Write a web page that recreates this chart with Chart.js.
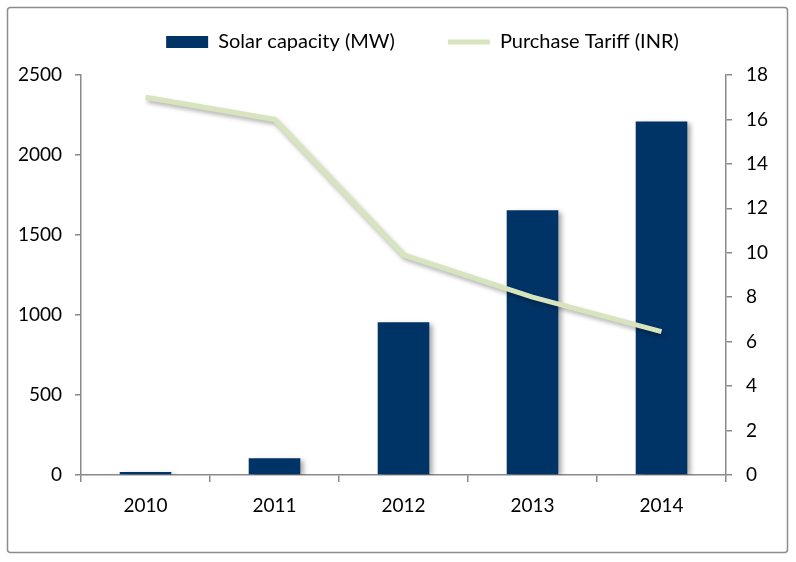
<!DOCTYPE html>
<html>
<head>
<meta charset="utf-8">
<script src="https://cdn.jsdelivr.net/npm/chart.js@4.4.1/dist/chart.umd.min.js"></script>
<style>
  html, body { margin: 0; padding: 0; background: #ffffff; }
  #wrap { width: 796px; height: 562px; }
</style>
</head>
<body>
<div id="wrap"><canvas id="c" width="796" height="562"></canvas></div>
<script>
const categories = ['2010', '2011', '2012', '2013', '2014'];
const solarCapacityMW = [18, 104, 955, 1655, 2210];
const purchaseTariffINR = [17.0, 16.0, 9.9, 8.0, 6.45];
const leftTicks = [0, 500, 1000, 1500, 2000, 2500];
const rightTicks = [0, 2, 4, 6, 8, 10, 12, 14, 16, 18];

const FONT = 'Lato, "Open Sans", sans-serif';
const AXIS_GRAY = '#8a8a8a';

const framePlugin = {
  id: 'frame',
  afterInit(chart) {
    const legend = chart.legend;
    if (legend && !legend.__wrapped) {
      const origFit = legend.fit.bind(legend);
      legend.fit = function () { origFit(); this.height = 96; };
      legend.__wrapped = true;
    }
  },
  beforeDraw(chart) {
    const ctx = chart.ctx;
    ctx.save();
    ctx.fillStyle = '#ffffff';
    ctx.fillRect(0, 0, chart.width, chart.height);
    ctx.strokeStyle = '#8c8c8c';
    ctx.lineWidth = 1.5;
    ctx.beginPath();
    if (ctx.roundRect) ctx.roundRect(7.5, 7.5, 780, 545, 3); else ctx.rect(7.5, 7.5, 780, 545);
    ctx.stroke();
    ctx.restore();
  },
  beforeDatasetDraw(chart, args) {
    const ctx = chart.ctx;
    ctx.save();
    if (args.meta.type === 'bar') {
      ctx.shadowColor = 'rgba(0,0,0,0.35)';
      ctx.shadowOffsetX = 4;
      ctx.shadowOffsetY = 2;
      ctx.shadowBlur = 5;
    } else {
      ctx.shadowColor = 'rgba(0,0,0,0.30)';
      ctx.shadowOffsetX = 2;
      ctx.shadowOffsetY = 3;
      ctx.shadowBlur = 4;
    }
  },
  afterDatasetDraw(chart) {
    chart.ctx.restore();
  }
};

new Chart(document.getElementById('c'), {
  data: {
    labels: categories,
    datasets: [
      {
        type: 'line',
        label: 'Purchase Tariff (INR)',
        data: purchaseTariffINR,
        yAxisID: 'y1',
        borderColor: '#d7e4bd',
        backgroundColor: '#d7e4bd',
        borderWidth: 5,
        pointRadius: 0,
        pointStyle: 'line',
        tension: 0,
        order: 0
      },
      {
        type: 'bar',
        label: 'Solar capacity (MW)',
        data: solarCapacityMW,
        yAxisID: 'y',
        backgroundColor: '#003366',
        borderWidth: 0,
        pointStyle: 'rect',
        barPercentage: 0.4,
        categoryPercentage: 1.0,
        order: 1
      }
    ]
  },
  options: {
    responsive: false,
    animation: false,
    devicePixelRatio: 1,
    layout: { padding: { top: -21, left: 0, right: -49, bottom: 0 } },
    plugins: {
      legend: {
        position: 'top',
        reverse: true,
        labels: {
          usePointStyle: true,
          pointStyleWidth: 42,
          boxHeight: 12,
          padding: 53,
          color: '#000000',
          font: { family: FONT, size: 20 }
        }
      },
      tooltip: { enabled: false }
    },
    scales: {
      x: {
        type: 'category',
        offset: true,
        grid: { display: true, drawOnChartArea: false, drawTicks: true, tickLength: 7, offset: true, color: AXIS_GRAY, lineWidth: 1.5 },
        border: { display: true, color: AXIS_GRAY, width: 1.5 },
        ticks: { color: '#000000', font: { family: FONT, size: 19 }, padding: 12, maxRotation: 0 },
        afterFit(scale) { scale.height = 87; }
      },
      y: {
        position: 'left',
        min: 0,
        max: 2500,
        afterBuildTicks(scale) { scale.ticks = leftTicks.map(v => ({ value: v })); },
        grid: { display: true, drawOnChartArea: false, drawTicks: true, tickLength: 6, color: AXIS_GRAY, lineWidth: 1.5 },
        border: { display: true, color: AXIS_GRAY, width: 1.5 },
        ticks: { color: '#000000', font: { family: FONT, size: 19 }, padding: 13, callback: v => String(v) },
        afterFit(scale) { scale.width = 81; }
      },
      y1: {
        position: 'right',
        min: 0,
        max: 18,
        afterBuildTicks(scale) { scale.ticks = rightTicks.map(v => ({ value: v })); },
        grid: { display: true, drawOnChartArea: false, drawTicks: true, tickLength: 6, color: AXIS_GRAY, lineWidth: 1.5 },
        border: { display: true, color: AXIS_GRAY, width: 1.5 },
        ticks: { color: '#000000', font: { family: FONT, size: 19 }, padding: 14, callback: v => String(v) },
        afterFit(scale) { scale.width = 119; }
      }
    }
  },
  plugins: [framePlugin]
});
</script>
</body>
</html>
